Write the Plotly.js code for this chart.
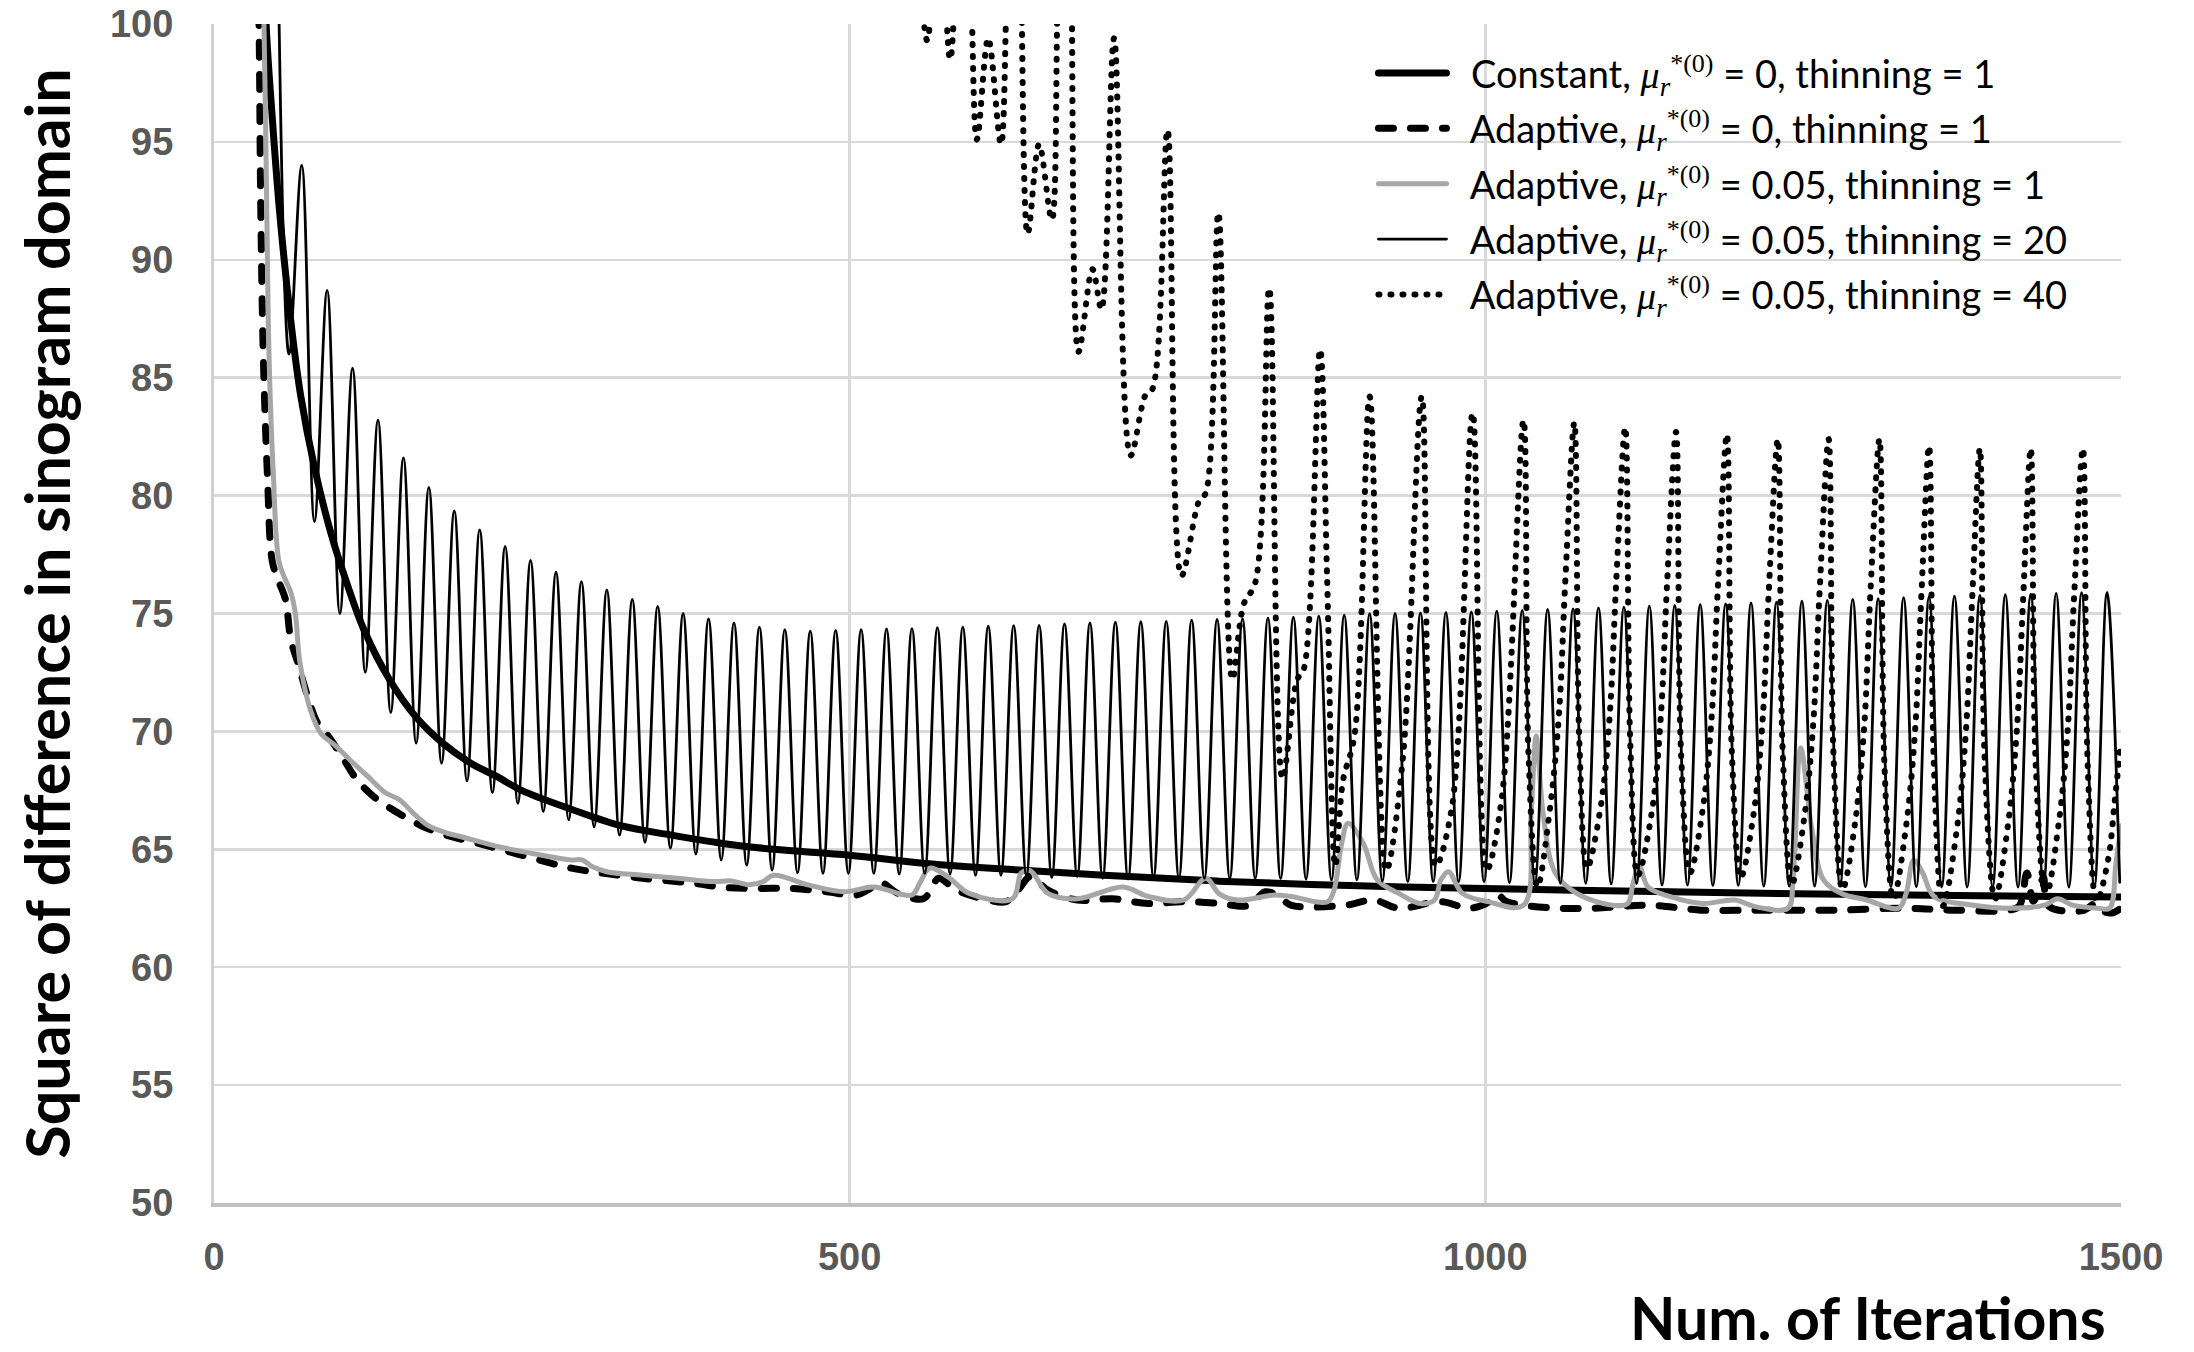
<!DOCTYPE html>
<html>
<head>
<meta charset="utf-8">
<script src="https://cdn.plot.ly/plotly-3.0.1.min.js"></script>
<style>
  html, body { margin: 0; padding: 0; background: #ffffff; }
  #chart { width: 2194px; height: 1352px; }
  #chart path.js-line, #chart .legendlines path { stroke-linecap: round; stroke-linejoin: round; }
</style>
</head>
<body>
<div id="chart"></div>
<script>
// [iteration, squared sinogram difference] for each run

const constantRun = [
  [38,106],[41,100],[46,95.9],[52,91.8],[60,87.6],[68,84.3],[79,81.2],[92,78.4],[105,76.2],
  [118,74.3],[138,72.2],[159,70.6],[180,69.5],[202,68.65],[222,68.1],[242,67.5],[281,66.7],
  [320,66.0],[360,65.6],[400,65.25],[440,65.0],[500,64.75],[560,64.4],[640,64.1],[700,63.9],
  [790,63.65],[900,63.45],[1010,63.33],[1120,63.22],[1230,63.13],[1350,63.05],[1500,62.98]
];

const adaptiveZero = [
  [33,106],[35.4,100],[36.7,92.6],[38.8,85.9],[42,80.9],[45.9,77.2],[50.6,76.4],[56.2,75.6],
  [60.4,73.9],[66,72.9],[73,71.6],[81.5,70.35],[89.9,69.8],[101,68.9],[112.4,67.95],[126.4,67.2],
  [146,66.5],[163,66.0],[182.6,65.6],[207.9,65.25],[238.8,64.8],[281,64.2],[297.8,64.05],
  [337,63.77],[379,63.55],[398,63.4],[421,63.34],[454,63.34],[482,63.2],[505,63.06],[515,63.3],
  [524,63.6],[538,63.13],[558,62.9],[564,63.3],[570,63.77],[584,63.27],[609,62.85],[623,62.78],
  [633,63.3],[642,63.84],[656,63.27],[679,62.85],[707,62.9],[735,62.7],[763,62.78],[791,62.7],
  [812,62.6],[820,62.9],[827,63.2],[838,63.0],[847,62.63],[890,62.63],[912,62.85],[932,62.5],
  [965,62.78],[988,62.5],[1004,62.8],[1010,63.06],[1016,62.8],[1030,62.63],[1058,62.5],
  [1086,62.5],[1128,62.63],[1170,62.42],[1213,62.42],[1232,62.42],[1277,62.42],[1328,62.5],
  [1370,62.42],[1412,62.42],[1420,62.6],[1426,64.0],[1431,62.8],[1435,63.2],[1439,63.8],
  [1443,62.6],[1470,62.4],[1480,62.7],[1485,62.4],[1493,62.3],[1500,62.5]
];

const adaptiveThin1 = [
  [36,106],[39.3,100],[41.4,92.6],[43.3,85.9],[46.7,80.9],[51.1,77.2],[56.4,76.4],[60.4,75.9],
  [64,75.0],[67.4,73.0],[75.9,70.9],[84.3,69.9],[95.5,69.4],[106.8,68.8],[120.8,68.1],
  [134.8,67.4],[146,67.1],[157.3,66.5],[168.6,66.0],[182.6,65.7],[196.7,65.5],[224.7,65.1],
  [252.8,64.8],[281,64.55],[289.4,64.55],[297.8,64.26],[309,64.05],[337,63.9],[365,63.77],
  [393,63.63],[407,63.66],[421,63.5],[432,63.63],[440,63.9],[468,63.48],[496,63.2],[519,63.4],
  [549,63.06],[555,63.55],[563,64.2],[577,63.84],[594,63.13],[628,62.9],[635,64.0],[642,64.1],
  [656,63.13],[679,62.9],[715,63.4],[735,63.0],[763,62.85],[780,63.77],[791,63.1],[805,62.85],
  [834,63.06],[847,63.0],[876,62.78],[881,63.27],[887,65.25],[892,66.1],[904,65.25],[915,63.7],
  [932,63.13],[949,62.7],[960,62.85],[965,63.7],[971,64.05],[982,63.13],[1002,62.78],
  [1030,62.63],[1036,66.5],[1040,69.8],[1045.5,66.5],[1055,64.0],[1072,63.13],[1100,62.63],
  [1112,62.7],[1116,63.5],[1121,64.3],[1128,63.4],[1145,63.0],[1171,62.7],[1196,62.85],
  [1213,62.56],[1238,62.5],[1242,63.7],[1248,69.3],[1257,65.8],[1266,63.7],[1280,63.13],
  [1300,62.85],[1325,62.5],[1331,63.13],[1337,64.55],[1344,64.0],[1353,63.0],[1384,62.63],
  [1412,62.5],[1440,62.63],[1450,62.9],[1462,62.63],[1482,62.5],[1491,62.5],[1496,64.4],
  [1500,66.0]
];

// thinning = 20: local minima and maxima of the oscillation
const thin20Start = [[50,104.5]];
const thin20Troughs = [
  [59,86.0],[79,78.9],[99,75.0],[119,72.5],[139,70.8],[159,69.5],[179,68.65],[199,67.9],
  [219,67.4],[239,66.95],[259,66.6],[279,66.25],[299,65.95],[319,65.6],[339,65.3],[359,65.05],
  [379,64.8],[399,64.55],[419,64.33],[439,64.12],[459,64.0],[479,63.98],[499,63.98],[519,63.98],
  [539,63.95],[559,63.98],[579,63.95],[599,63.9],[619,63.9],[639,63.88],[659,63.8],[679,63.84],
  [699,63.77],[719,63.74],[739,63.8],[759,63.78],[779,63.77],[799,63.77],[819,63.77],[839,63.76],
  [859,63.74],[879,63.7],[899,63.7],[919,63.65],[939,63.63],[959,63.63],[979,63.62],[999,63.62],
  [1019,63.58],[1039,63.58],[1059,63.56],[1079,63.56],[1099,63.53],[1119,63.55],[1139,63.48],
  [1159,63.48],[1179,63.46],[1199,63.47],[1219,63.44],[1239,63.44],[1259,63.44],[1279,63.43],
  [1299,63.41],[1319,63.41],[1339,63.41],[1359,63.4],[1379,63.4],[1399,63.4],[1419,63.4],
  [1439,63.4],[1459,63.4],[1479,63.4],[1499,63.6]
];
const thin20Peaks = [
  [69,94.0],[89,88.7],[109,85.4],[129,83.2],[149,81.6],[169,80.35],[189,79.35],[209,78.55],
  [229,77.85],[249,77.25],[269,76.75],[289,76.35],[309,76.0],[329,75.6],[349,75.3],[369,75.0],
  [389,74.77],[409,74.6],[429,74.42],[449,74.32],[469,74.25],[489,74.28],[509,74.32],[529,74.35],
  [549,74.36],[569,74.4],[589,74.42],[609,74.46],[629,74.49],[649,74.5],[669,74.56],[689,74.6],
  [709,74.63],[729,74.65],[749,74.67],[769,74.72],[789,74.75],[809,74.77],[829,74.8],[849,74.84],
  [869,74.89],[889,74.93],[909,74.99],[929,75.0],[949,75.03],[969,75.05],[989,75.07],[1009,75.1],
  [1029,75.13],[1049,75.17],[1069,75.2],[1089,75.24],[1109,75.27],[1129,75.31],[1149,75.34],
  [1169,75.38],[1189,75.41],[1209,75.45],[1229,75.48],[1249,75.52],[1269,75.56],[1289,75.6],
  [1309,75.63],[1329,75.67],[1349,75.7],[1369,75.74],[1389,75.77],[1409,75.8],[1429,75.82],
  [1449,75.85],[1469,75.88],[1489,75.9]
];

// thinning = 40
const thin40Run = [
  [550,108],[556,101.5],[561,99.3],[566,101.5],[572,103],[579,98.5],[586,103],[592,104],
  [600,95.1],[609,99.4],[619,94.9],[625,103],[632,106],[640,91.1],[649,94.9],[659,91.7],
  [665,103],[672,106],[680,86.1],[691,89.6],[698,87.9],[708,99.4],[721,81.7],[733,84.3],
  [738,84.5],[750,95.5],[761,76.6],[775,79.8],[780,80.1],[790,92.0],[801,72.2],[810,75.4],
  [819,76.3],[830,88.8],[840.5,68.0],[852,72.2],[857,72.6],[870,86.2],[875.6,76.4],[882,64.3],
  [888,67.9],[897,69.8],[909,84.2],[922,64.1],[935,68.8],[950,84.2],[961,64.3],[974,66.9],
  [990,83.5],[1001,64.1],[1013,67.2],
  [1030,83.2],[1034,69.0],[1041,63.4],[1051,66.8],[1058,70.8],[1063,76.5],
  [1070,83.1],[1074,69.5],[1080,64.2],[1091,66.9],[1098,70.8],[1103,76.4],
  [1110,82.9],[1114,69.5],[1120,63.9],[1131,66.6],[1138,70.6],[1143,76.3],
  [1150,82.7],[1154,69.0],[1161,64.0],[1171,66.7],[1178,70.6],[1183,76.2],
  [1190,82.6],[1194,69.0],[1201,63.8],[1211,66.5],[1218,70.4],[1223,76.0],
  [1230,82.4],[1234,69.0],[1241,63.5],[1251,66.4],[1258,70.4],[1263,76.0],
  [1270,82.4],[1274,68.8],[1281,63.3],[1291,66.2],[1298,70.2],[1303,76.0],
  [1310,82.4],[1314,68.5],[1321,62.9],[1331,66.0],[1338,70.0],[1343,75.8],
  [1349,82.1],[1353,68.3],[1360,62.6],[1371,65.9],[1378,70.0],[1383,75.7],
  [1389,82.0],[1393,68.5],[1401,62.9],[1411,66.0],[1418,70.0],[1423,75.6],
  [1429,82.0],[1433,68.5],[1441,63.0],[1451,66.1],[1458,70.0],[1463,75.6],
  [1470,82.0],[1474,68.3],[1481,62.8],[1490,64.6],[1495,67.0],[1500,69.6]
];

const thin20Run = thin20Start.concat(thin20Troughs, thin20Peaks).sort((a, b) => a[0] - b[0]);

// μ_r^{*(0)} written with a serif italic, sized explicitly
const muLabel = "<span style=\"font-family:'Liberation Serif';font-style:italic;font-size:38px\">μ</span>" +
  "<sub><span style=\"font-family:'Liberation Serif';font-style:italic;font-size:27px\">r</span></sub>" +
  "<sup><span style=\"font-family:'Liberation Serif';font-size:26px\">*(0)</span></sup>";

const gap = "\u00A0\u00A0";
const seriesNames = [
  gap + "Constant, " + muLabel + " = 0, thinning = 1",
  gap + "Adaptive, " + muLabel + " = 0, thinning = 1",
  gap + "Adaptive, " + muLabel + " = 0.05, thinning = 1",
  gap + "Adaptive, " + muLabel + " = 0.05, thinning = 20",
  gap + "Adaptive, " + muLabel + " = 0.05, thinning = 40"
];

const xTicks = [0, 500, 1000, 1500];
const yTicks = [50, 55, 60, 65, 70, 75, 80, 85, 90, 95, 100];

function makeTrace(run, name, line) {
  return {
    type: 'scatter',
    mode: 'lines',
    x: run.map(p => p[0]),
    y: run.map(p => p[1]),
    name: name,
    legendgroup: name,
    line: Object.assign({ shape: 'spline', smoothing: 1 }, line),
    hoverinfo: 'skip'
  };
}

const traces = [
  makeTrace(constantRun, seriesNames[0], { color: '#000000', width: 7 }),
  makeTrace(adaptiveZero, seriesNames[1], { color: '#000000', width: 7, dash: '15px,17px' }),
  makeTrace(adaptiveThin1, seriesNames[2], { color: '#a6a6a6', width: 5 }),
  makeTrace(thin20Run, seriesNames[3], { color: '#000000', width: 2.8 }),
  makeTrace(thin40Run, seriesNames[4], { color: '#000000', width: 6, dash: '1px,11px' })
];

const tickFont = { family: 'Liberation Sans, Arial, sans-serif', size: 38, color: '#595959', weight: 'bold' };

const layout = {
  width: 2194,
  height: 1352,
  margin: { l: 214, r: 73, t: 24, b: 149, pad: 0 },
  paper_bgcolor: '#ffffff',
  plot_bgcolor: '#ffffff',
  showlegend: true,
  legend: {
    x: 0.608, y: 0.985, xanchor: 'left', yanchor: 'top',
    bgcolor: 'rgba(255,255,255,0)',
    font: { family: 'Lato, sans-serif', size: 38, color: '#000000' },
    itemwidth: 68,
    tracegroupgap: 3,
    traceorder: 'grouped'
  },
  xaxis: {
    range: [0, 1500],
    tickmode: 'array', tickvals: xTicks, ticktext: xTicks.map(String),
    showgrid: true, gridcolor: '#d9d9d9', gridwidth: 2.5,
    zeroline: false,
    showline: true, linecolor: '#bfbfbf', linewidth: 4,
    ticks: '',
    tickfont: tickFont,
    ticklabelstandoff: 17
  },
  yaxis: {
    range: [50, 100],
    tickmode: 'array', tickvals: yTicks, ticktext: yTicks.map(String),
    showgrid: true, gridcolor: '#d9d9d9', gridwidth: 2.5,
    zeroline: false,
    showline: true, linecolor: '#d0d0d0', linewidth: 3,
    ticks: '',
    tickfont: tickFont,
    ticklabelstandoff: 30,
    title: {
      text: 'Square of difference in sinogram domain',
      font: { family: 'Lato, sans-serif', size: 61, color: '#000000', weight: 'bold' },
      standoff: 20
    }
  },
  annotations: [{
    text: 'Num. of Iterations',
    xref: 'paper', yref: 'paper',
    x: 0.993, y: -0.0967, xanchor: 'right', yanchor: 'middle',
    showarrow: false,
    font: { family: 'Lato, sans-serif', size: 59, color: '#000000', weight: 'bold' }
  }]
};

Plotly.newPlot('chart', traces, layout, { staticPlot: true, displayModeBar: false });
</script>
</body>
</html>
